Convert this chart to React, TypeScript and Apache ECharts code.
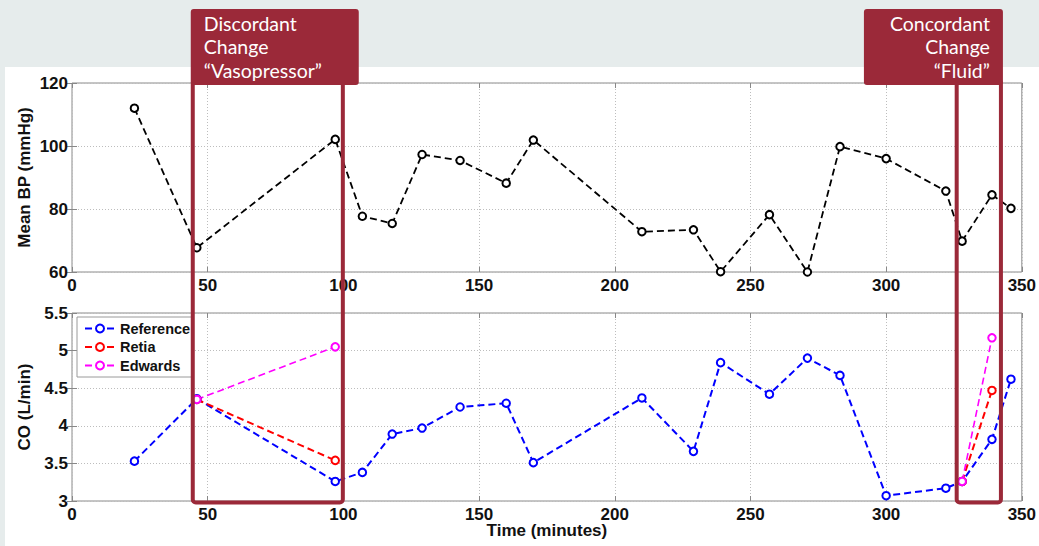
import React, { useEffect, useRef } from "react";
import * as echarts from "echarts";

// ---- data ----
const timeMin = [23, 46, 97, 107, 118, 129, 143, 160, 170, 210, 229, 239, 257, 271, 283, 300, 322, 328, 339, 346];
const meanBP = [112, 67.7, 102.1, 77.7, 75.4, 97.3, 95.4, 88.2, 101.9, 72.8, 73.4, 60.1, 78.2, 60, 99.8, 96, 85.7, 69.8, 84.5, 80.2];
const coReference = [3.53, 4.36, 3.26, 3.38, 3.89, 3.97, 4.25, 4.3, 3.51, 4.37, 3.66, 4.84, 4.42, 4.9, 4.67, 3.07, 3.17, 3.26, 3.82, 4.62];
const changeTimes = [46, 97, null, 328, 339];
const coRetia = [4.35, 3.54, null, 3.26, 4.47];
const coEdwards = [4.35, 5.05, null, 3.26, 5.17];
const xTicks = { min: 0, max: 350, interval: 50 };
const bpTicks = { min: 60, max: 120, interval: 20 };
const coTicks = { min: 3, max: 5.5, interval: 0.5 };
const discordantBand = [44.5, 99.8];
const concordantBand = [326, 342.3];
const discordantLines = ["Discordant", "Change", "“Vasopressor”"];
const concordantLines = ["Concordant", "Change", "“Fluid”"];

const RED = "#9b2939";
const FONT = "'Liberation Sans', Arial, Helvetica, sans-serif";

const pairs = (xs: (number | null)[], ys: (number | null)[]) =>
  xs.map((x, i) => (x == null || ys[i] == null ? ["-", "-"] : [x, ys[i]]));

export default function App() {
  const ref = useRef<HTMLDivElement>(null);
  useEffect(() => {
    if (!ref.current) return;
    const chart = echarts.init(ref.current, undefined, { renderer: "svg" });
    const tickLabel = { color: "#111", fontFamily: FONT, fontWeight: "bold", fontSize: 17 };
    const mainX = (gridIndex: number, name?: string) => ({
      type: "value",
      gridIndex,
      ...xTicks,
      position: "bottom",
      name,
      nameLocation: "middle",
      nameGap: 21,
      nameMoveOverlap: false,
      nameTextStyle: { ...tickLabel, verticalAlign: "top" },
      axisLine: { show: false },
      axisTick: { inside: true, length: 5, lineStyle: { color: "#888" } },
      axisLabel: { ...tickLabel, margin: 5, showMaxLabel: true, showMinLabel: true },
      splitLine: { show: true, lineStyle: { type: [1, 2], color: "#bdbdbd" } },
    });
    const dummyX = (gridIndex: number) => ({
      type: "value",
      gridIndex,
      ...xTicks,
      position: "top",
      axisLine: { show: false },
      axisTick: { inside: true, length: 5, lineStyle: { color: "#888" } },
      axisLabel: { show: false },
      splitLine: { show: false },
    });
    const mainY = (gridIndex: number, t: any, name: string) => ({
      type: "value",
      gridIndex,
      ...t,
      position: "left",
      name,
      nameLocation: "middle",
      nameRotate: 90,
      nameGap: 39,
      nameMoveOverlap: false,
      nameTextStyle: { ...tickLabel },
      axisLine: { show: false },
      axisTick: { inside: true, length: 5, lineStyle: { color: "#888" } },
      axisLabel: { ...tickLabel, margin: 4 },
      splitLine: { show: true, lineStyle: { type: [1, 2], color: "#bdbdbd" } },
    });
    const dummyY = (gridIndex: number, t: any) => ({
      type: "value",
      gridIndex,
      ...t,
      position: "right",
      axisLine: { show: false },
      axisTick: { inside: true, length: 5, lineStyle: { color: "#888" } },
      axisLabel: { show: false },
      splitLine: { show: false },
    });
    const lineSeries = (name: string, color: string, data: any[], xi: number, yi: number, w = 2) => ({
      type: "line",
      name,
      xAxisIndex: xi,
      yAxisIndex: yi,
      data,
      symbol: "emptyCircle",
      symbolSize: 7.5,
      showSymbol: true,
      connectNulls: false,
      color,
      itemStyle: { color, borderColor: color, borderWidth: 1.6 },
      lineStyle: { color, width: w, type: [7, 4] },
    });

    chart.setOption({
      animation: false,
      backgroundColor: "transparent",
      grid: [
        { left: 72, right: 16, top: 83, height: 189, show: true, borderColor: "#8a8a8a", borderWidth: 1, backgroundColor: "transparent" },
        { left: 72, right: 16, top: 313, height: 188, show: true, borderColor: "#8a8a8a", borderWidth: 1, backgroundColor: "transparent" },
      ],
      xAxis: [mainX(0), dummyX(0), mainX(1, "Time (minutes)"), dummyX(1)],
      yAxis: [mainY(0, bpTicks, "Mean BP (mmHg)"), dummyY(0, bpTicks), mainY(1, coTicks, "CO (L/min)"), dummyY(1, coTicks)],
      legend: {
        orient: "vertical",
        left: 77,
        top: 317,
        data: ["Reference", "Retia", "Edwards"],
        padding: [4, 3, 4, 7],
        itemGap: 3.5,
        itemWidth: 30,
        itemHeight: 10,
        backgroundColor: "#fff",
        borderColor: "#9a9a9a",
        borderWidth: 1,
        textStyle: { color: "#111", fontFamily: FONT, fontWeight: "bold", fontSize: 14.5, lineHeight: 14 },
      },
      series: [
        lineSeries("Mean BP", "#000", pairs(timeMin, meanBP), 0, 0, 1.8),
        lineSeries("Reference", "#0000ff", pairs(timeMin, coReference), 2, 2, 2),
        lineSeries("Retia", "#ff0000", pairs(changeTimes, coRetia), 2, 2, 2),
        lineSeries("Edwards", "#ff00ff", pairs(changeTimes, coEdwards), 2, 2, 1.6),
      ],
    });

    const px = (v: number) => chart.convertToPixel({ xAxisIndex: 0 }, v) as number;
    const bottomY = (chart.convertToPixel({ yAxisIndex: 2 }, coTicks.min) as number) + 1.5;
    const frameTop = 80;
    const headTop = 9;
    const headH = 76;
    const lineStep = 23.4;
    const headText = { fill: "#fff", fontFamily: "Lato, 'Open Sans', sans-serif", fontSize: 19.5, verticalAlign: "middle" };

    const l0 = px(discordantBand[0]);
    const l1 = px(discordantBand[1]);
    const r0 = px(concordantBand[0]);
    const r1 = px(concordantBand[1]);
    const leftHeadW = 168;
    const rightHeadW = 139;

    const textLines = (lines: string[], x: number, align: string) =>
      lines.map((t, i) => ({
        type: "text",
        z: 102,
        x,
        y: headTop + 14.5 + i * lineStep,
        style: { ...headText, text: t, align },
      }));

    chart.setOption({
      graphic: [
        { type: "rect", z: 100, shape: { x: l0, y: frameTop, width: l1 - l0, height: bottomY - frameTop, r: 3 }, style: { fill: "none", stroke: RED, lineWidth: 4 } },
        { type: "rect", z: 101, shape: { x: l0 - 2, y: headTop, width: leftHeadW, height: headH, r: 3 }, style: { fill: RED } },
        ...textLines(discordantLines, l0 - 2 + 13, "left"),
        { type: "rect", z: 100, shape: { x: r0, y: frameTop, width: r1 - r0, height: bottomY - frameTop, r: 3 }, style: { fill: "none", stroke: RED, lineWidth: 4 } },
        { type: "rect", z: 101, shape: { x: r1 + 2 - rightHeadW, y: headTop, width: rightHeadW, height: headH, r: 3 }, style: { fill: RED } },
        ...textLines(concordantLines, r1 + 2 - 13, "right"),
      ],
    });

    return () => chart.dispose();
  }, []);

  return (
    <div style={{ position: "fixed", left: 0, top: 0, width: 1039, height: 546, background: "#e6ecec", overflow: "hidden" }}>
      <div style={{ position: "absolute", left: 5, top: 67, right: 0, bottom: 0, background: "#ffffff" }} />
      <div ref={ref} style={{ position: "absolute", left: 0, top: 0, width: 1039, height: 546 }} />
    </div>
  );
}
